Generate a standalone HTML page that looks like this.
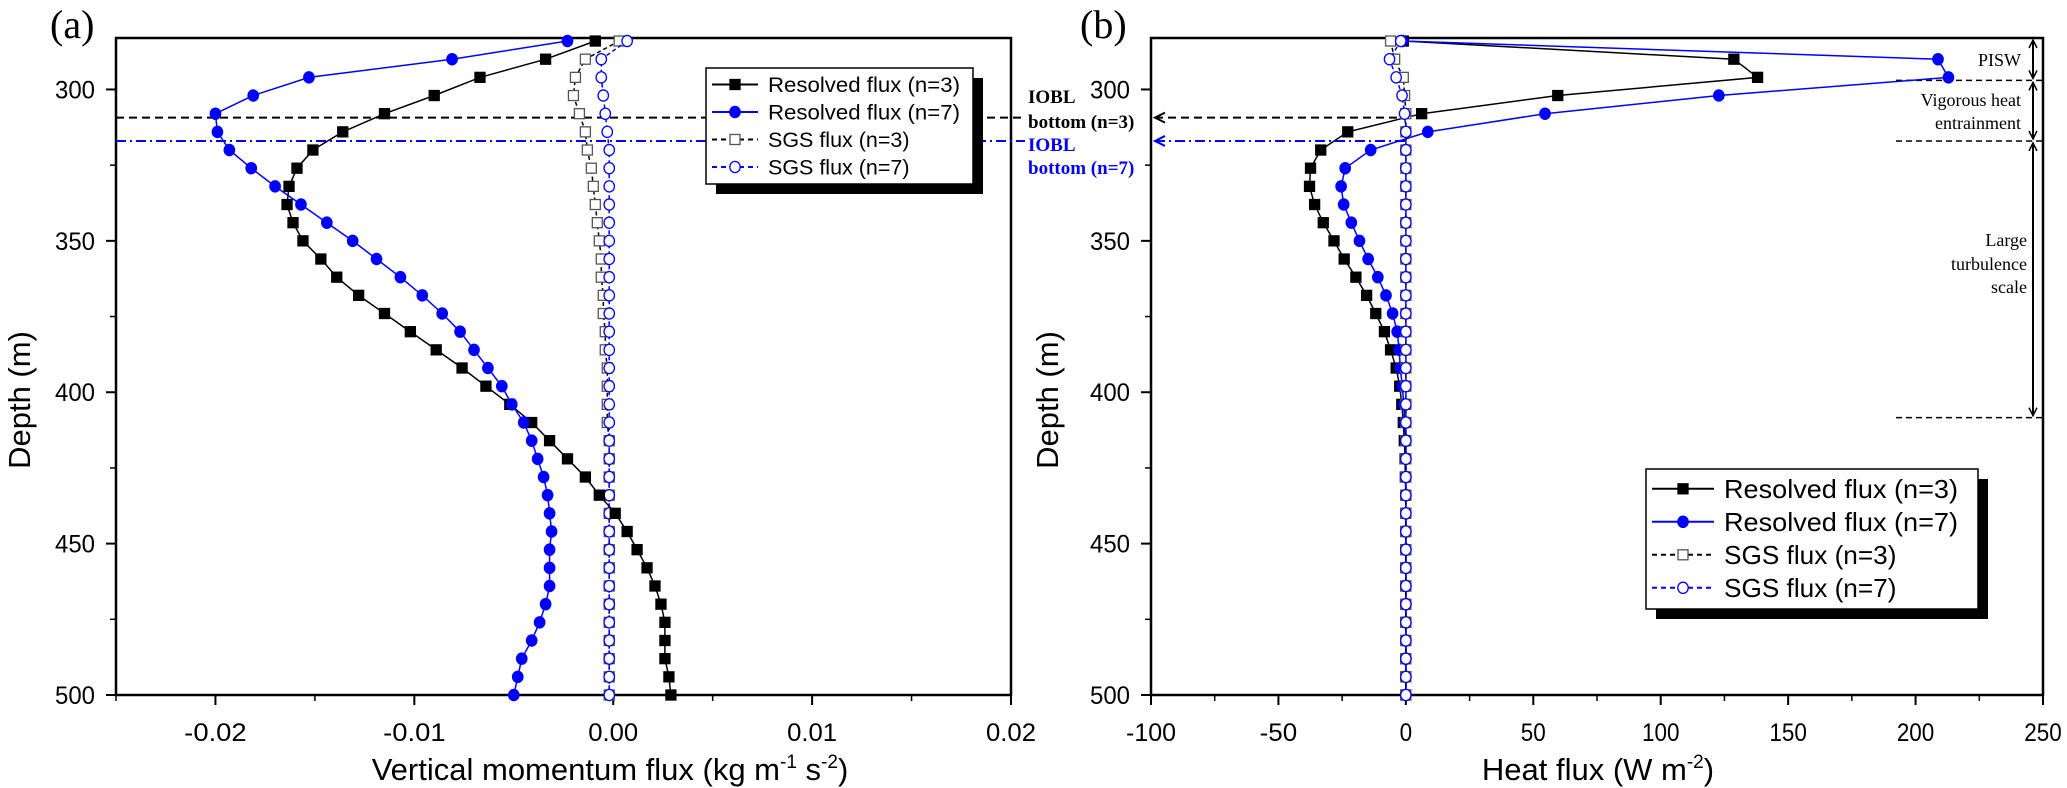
<!DOCTYPE html>
<html><head><meta charset="utf-8"><style>
html,body{margin:0;padding:0;background:#fff;}
svg{display:block;}
.tk{font-family:"Liberation Sans",Arial,sans-serif;font-size:25px;fill:#000;}
.lg{font-family:"Liberation Sans",Arial,sans-serif;fill:#000;}
.sf{font-family:"Liberation Serif","Times New Roman",serif;fill:#000;}
</style></head><body>
<svg id="chart" width="2067" height="788" viewBox="0 0 2067 788" xmlns="http://www.w3.org/2000/svg">
<g id="pa"></g>
<g id="pb"></g>
</svg>
<script>
const depths=[284,290,296,302,308,314,320,326,332,338,344,350,356,362,368,374,380,386,392,398,404,410,416,422,428,434,440,446,452,458,464,470,476,482,488,494,500];
const momResolved3=[-0.0009,-0.0034,-0.0067,-0.0090,-0.0115,-0.0136,-0.0151,-0.0159,-0.0163,-0.0164,-0.0161,-0.0156,-0.0147,-0.0139,-0.0128,-0.0115,-0.0102,-0.0089,-0.0076,-0.0064,-0.0052,-0.0041,-0.0032,-0.0023,-0.0014,-0.0007,0.0001,0.0007,0.0012,0.0017,0.0021,0.0024,0.0026,0.0026,0.0026,0.0028,0.0029];
const momResolved7=[-0.0023,-0.0081,-0.0153,-0.0181,-0.0200,-0.0199,-0.0193,-0.0182,-0.0170,-0.0157,-0.0144,-0.0131,-0.0119,-0.0107,-0.0096,-0.0086,-0.0077,-0.0070,-0.0063,-0.0056,-0.0051,-0.0045,-0.0041,-0.0038,-0.0035,-0.0033,-0.0032,-0.0031,-0.0032,-0.0032,-0.0032,-0.0034,-0.0037,-0.0041,-0.0046,-0.0048,-0.0050];
const momSGS3=[0.0003,-0.0014,-0.0019,-0.0020,-0.0017,-0.0014,-0.0013,-0.0011,-0.0010,-0.0009,-0.0008,-0.0007,-0.0006,-0.0006,-0.0005,-0.0005,-0.0004,-0.0004,-0.0003,-0.0003,-0.0003,-0.0003,-0.0002,-0.0002,-0.0002,-0.0002,-0.0002,-0.0002,-0.0002,-0.0002,-0.0002,-0.0002,-0.0002,-0.0002,-0.0002,-0.0002,-0.0002];
const momSGS7=[0.0007,-0.0006,-0.0006,-0.0005,-0.0004,-0.0003,-0.0002,-0.0002,-0.0002,-0.0002,-0.0002,-0.0002,-0.0002,-0.0002,-0.0002,-0.0002,-0.0002,-0.0002,-0.0002,-0.0002,-0.0002,-0.0002,-0.0002,-0.0002,-0.0002,-0.0002,-0.0002,-0.0002,-0.0002,-0.0002,-0.0002,-0.0002,-0.0002,-0.0002,-0.0002,-0.0002,-0.0002];
const heatResolved3=[-1,128.7,138,59.6,6.2,-22.8,-33.4,-37.4,-37.8,-35.8,-32.4,-28.2,-24.2,-19.6,-15.4,-11.8,-8.4,-6,-3.8,-2.4,-1.6,-1,-0.6,-0.3,-0.2,0,0,0,0,0,0,0,0,0,0,0,0];
const heatResolved7=[-1.4,208.8,212.9,122.8,54.6,8.6,-13.8,-23.8,-25.4,-24.4,-21.4,-18.2,-14.8,-11,-7.8,-5.2,-3.4,-2.6,-2.2,-1.4,-0.8,-0.4,0,0,0,0,0,0,0,0,0,0,0,0,0,0,0];
const heatSGS3=[-6,-4.4,-1,-0.5,0,0,0,0,0,0,0,0,0,0,0,0,0,0,0,0,0,0,0,0,0,0,0,0,0,0,0,0,0,0,0,0,0];
const heatSGS7=[-2,-6.4,-3.8,-1.5,-0.5,0,0,0,0,0,0,0,0,0,0,0,0,0,0,0,0,0,0,0,0,0,0,0,0,0,0,0,0,0,0,0,0];
const yTicks=[300,350,400,450,500];
const xTicksA=[-0.02,-0.01,0.00,0.01,0.02];
const xTickLabelsA=["-0.02","-0.01","0.00","0.01","0.02"];
const xTicksB=[-100,-50,0,50,100,150,200,250];
const iobl3=309.3, iobl7=317;
const zoneBounds=[297,317,408.4];

const NS="http://www.w3.org/2000/svg";
const Y0=38,Y1=695,D0=283,D1=500;
function y(d){return Y0+(d-D0)/(D1-D0)*(Y1-Y0);}
const AX0=116,AX1=1011,BX0=1151,BX1=2043;
function xa(v){return AX0+(v+0.025)/0.045*(AX1-AX0);}
function xb(v){return BX0+(v+100)/350*(BX1-BX0);}
function el(parent,tag,attrs,text){const e=document.createElementNS(NS,tag);for(const k in attrs)e.setAttribute(k,attrs[k]);if(text!==undefined)e.textContent=text;parent.appendChild(e);return e;}

function marker(g,shape,cx,cy,color,filled,name){
  let m;
  if(shape==='sq'){m=el(g,'rect',{x:cx-5,y:cy-5,width:10,height:10,fill:filled?color:'#fff',stroke:filled?color:'#555','stroke-width':1.3});}
  else{m=el(g,'ellipse',{cx:cx,cy:cy,rx:5.2,ry:5.6,fill:filled?color:'#fff',stroke:color,'stroke-width':1.3});}
  
  
}
function series(g,xf,vals,color,dash,shape,filled,name){
  const sg=el(g,'g',{});
  
  
  const pts=vals.map((v,i)=>xf(v).toFixed(1)+','+y(depths[i]).toFixed(1)).join(' ');
  const pl=el(sg,'polyline',{points:pts,fill:'none',stroke:color,'stroke-width':1.5,'stroke-dasharray':dash});
  
  
  vals.forEach((v,i)=>marker(sg,shape,xf(v),y(depths[i]),color,filled,name+'-point'));
}
function axes(g,x0,x1,xf,ticks,labels,minorStep,title,ytitleX,ylabX){
  const fr=el(g,'rect',{x:x0,y:Y0,width:x1-x0,height:Y1-Y0,fill:'none',stroke:'#000','stroke-width':2.5});
  
  
  ticks.forEach((t,i)=>{
    const X=xf(t);
    el(g,'line',{x1:X,y1:Y1,x2:X,y2:Y1+10,stroke:'#000','stroke-width':2});
    const tx=el(g,'text',{x:X,y:Y1+46,'text-anchor':'middle',class:'tk',textLength:labels[i].length*12.5,lengthAdjust:'spacingAndGlyphs'},labels[i]);
    
    
    const mv=t+minorStep;
    if(xf(mv)<x1+1) el(g,'line',{x1:xf(mv),y1:Y1,x2:xf(mv),y2:Y1+6,stroke:'#000','stroke-width':1.5});
  });
  const first=ticks[0]-minorStep; if(xf(first)>=x0-1) el(g,'line',{x1:xf(first),y1:Y1,x2:xf(first),y2:Y1+6,stroke:'#000','stroke-width':1.5});
  yTicks.forEach(d=>{
    el(g,'line',{x1:x0-10,y1:y(d),x2:x0,y2:y(d),stroke:'#000','stroke-width':2});
    if(d-25>D0) el(g,'line',{x1:x0-6,y1:y(d-25),x2:x0,y2:y(d-25),stroke:'#000','stroke-width':1.5});
    const tl=el(g,'text',{x:ylabX,y:y(d)+9,'text-anchor':'end',class:'tk',textLength:40,lengthAdjust:'spacingAndGlyphs'},String(d));
    
    
  });
  const yt=el(g,'text',{x:ytitleX,y:400,'text-anchor':'middle',class:'lg','font-size':31,transform:'rotate(-90 '+ytitleX+' 400)'},'Depth (m)');
  
  
}
function legend(g,bx,by,w,h,rowH,fs,lineL,textW,name){
  const lg=el(g,'g',{});
  
  
  el(lg,'rect',{x:bx+10,y:by+10,width:w,height:h,fill:'#000'});
  el(lg,'rect',{x:bx,y:by,width:w,height:h,fill:'#fff',stroke:'#000','stroke-width':1.5});
  const items=[['Resolved flux (n=3)','#000','','sq',true],['Resolved flux (n=7)','#0000ff','','ci',true],['SGS flux (n=3)','#000','5,4','sq',false],['SGS flux (n=7)','#0000ff','5,4','ci',false]];
  items.forEach((it,i)=>{
    const cy=by+rowH*0.6+i*rowH;
    const e=el(lg,'g',{});
    
    
    el(e,'line',{x1:bx+6,y1:cy,x2:bx+6+lineL,y2:cy,stroke:it[1],'stroke-width':2,'stroke-dasharray':it[2]});
    marker(e,it[3],bx+6+lineL/2,cy,it[1],it[4],'legend-marker');
    el(e,'text',{x:bx+lineL+16,y:cy+fs*0.36,class:'lg','font-size':fs,textLength:textW*(it[0].length/19),lengthAdjust:'spacingAndGlyphs'},it[0]);
  });
}
function arrowHead(g,x,yy,dir,color){el(g,'path',{d:`M${x+dir*10},${yy-5} L${x},${yy} L${x+dir*10},${yy+5}`,fill:'none',stroke:color,'stroke-width':2});}

// Panel A
const A=document.getElementById('pa');
el(A,'text',{x:50,y:38,class:'sf','font-size':40},'(a)');
axes(A,AX0,AX1,xa,xTicksA,xTickLabelsA,0.005,'',30,95);
const xtA=el(A,'text',{x:610,y:780,'text-anchor':'middle',class:'lg','font-size':31},'');


xtA.innerHTML='Vertical momentum flux (kg m<tspan dy="-12" font-size="19">-1</tspan><tspan dy="12"> s</tspan><tspan dy="-12" font-size="19">-2</tspan><tspan dy="12">)</tspan>';
const l3=el(A,'line',{x1:AX0,y1:y(iobl3),x2:1025,y2:y(iobl3),stroke:'#000','stroke-width':2,'stroke-dasharray':'8,5'});

const l7=el(A,'line',{x1:AX0,y1:y(iobl7),x2:1025,y2:y(iobl7),stroke:'#0000ff','stroke-width':2,'stroke-dasharray':'10,4,2,4'});

series(A,xa,momSGS3,'#000','4,3','sq',false,'sgs-flux-n3');
series(A,xa,momSGS7,'#0000ff','4,3','ci',false,'sgs-flux-n7');
series(A,xa,momResolved3,'#000','','sq',true,'resolved-flux-n3');
series(A,xa,momResolved7,'#0000ff','','ci',true,'resolved-flux-n7');
legend(A,706,68,267,116,27.5,21,46,192,'legend-a');

// Panel B
const B=document.getElementById('pb');
el(B,'text',{x:1080,y:38,class:'sf','font-size':40},'(b)');
axes(B,BX0,BX1,xb,xTicksB,xTicksB.map(String),25,'',1058,1130);
const xtB=el(B,'text',{x:1598,y:780,'text-anchor':'middle',class:'lg','font-size':31},'');


xtB.innerHTML='Heat flux (W m<tspan dy="-12" font-size="19">-2</tspan><tspan dy="12">)</tspan>';
const a3=el(B,'line',{x1:BX0+4,y1:y(iobl3),x2:xb(3),y2:y(iobl3),stroke:'#000','stroke-width':2,'stroke-dasharray':'8,5'});

arrowHead(B,BX0+4,y(iobl3),1,'#000');
const a7=el(B,'line',{x1:BX0+4,y1:y(iobl7),x2:xb(1),y2:y(iobl7),stroke:'#0000ff','stroke-width':2,'stroke-dasharray':'10,4,2,4'});

arrowHead(B,BX0+4,y(iobl7),1,'#0000ff');
const ann=[['IOBL',97,'#000'],['bottom (n=3)',122,'#000'],['IOBL',145,'#0000ff'],['bottom (n=7)',168,'#0000ff']];
ann.forEach(a=>{const t=el(B,'text',{x:1028,y:a[1]+6,class:'sf','font-size':19,'font-weight':'bold',fill:a[2]},a[0]);t.style.fill=a[2];});
zoneBounds.forEach(d=>{const z=el(B,'line',{x1:1896,y1:y(d),x2:BX1,y2:y(d),stroke:'#000','stroke-width':1.5,'stroke-dasharray':'6,4'});});
function dbl(d0,d1){const y0=y(d0)+2,y1=y(d1)-2,X=2033;el(B,'line',{x1:X,y1:y0,x2:X,y2:y1,stroke:'#000','stroke-width':2});el(B,'path',{d:`M${X-4},${y0+8} L${X},${y0} L${X+4},${y0+8} M${X-4},${y1-8} L${X},${y1} L${X+4},${y1-8}`,fill:'none',stroke:'#000','stroke-width':1.5});}
dbl(D0,zoneBounds[0]);dbl(zoneBounds[0],zoneBounds[1]);dbl(zoneBounds[1],zoneBounds[2]);
[['PISW',66,2021],['Vigorous heat',106,2021],['entrainment',129,2021],['Large',246,2027],['turbulence',270,2027],['scale',293,2027]].forEach(a=>{const t=el(B,'text',{x:a[2],y:a[1],'text-anchor':'end',class:'sf','font-size':18},a[0]);});
series(B,xb,heatResolved3,'#000','','sq',true,'resolved-flux-n3');
series(B,xb,heatResolved7,'#0000ff','','ci',true,'resolved-flux-n7');
series(B,xb,heatSGS3,'#000','4,3','sq',false,'sgs-flux-n3');
series(B,xb,heatSGS7,'#0000ff','4,3','ci',false,'sgs-flux-n7');
legend(B,1646,469,332,140,33,26,62,234,'legend-b');
</script>
</body></html>
